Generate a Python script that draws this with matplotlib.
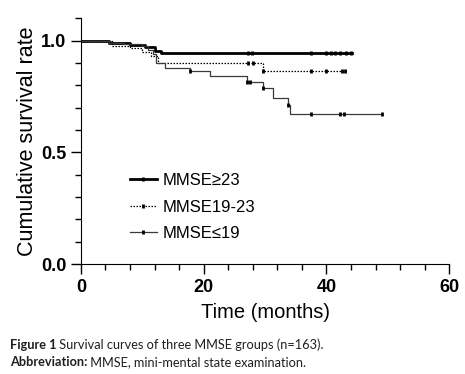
import numpy as np
import matplotlib
matplotlib.use("Agg")
import matplotlib.pyplot as plt
from matplotlib.lines import Line2D
from matplotlib.ticker import MultipleLocator

plt.rcParams['font.family'] = ['Liberation Sans', 'DejaVu Sans']

labels = ["MMSE\u226523", "MMSE19-23", "MMSE\u226419"]

# step times (months) and survival after each step
t_hi = [0, 4.5, 8.0, 10.5, 12.0, 13.0]
s_hi = [1.0, 0.99, 0.98, 0.97, 0.955, 0.945]
end_hi = 44.2
cens_hi = [27.3, 27.9, 37.5, 40.0, 40.7, 41.4, 42.2, 43.2, 44.0]

t_mid = [0, 5.0, 8.0, 10.0, 11.5, 12.5, 29.7]
s_mid = [1.0, 0.977, 0.965, 0.95, 0.93, 0.90, 0.862]
end_mid = 43.3
cens_mid = [27.3, 28.0, 29.7, 37.5, 40.0, 42.5, 43.1]

t_lo = [0, 4.5, 7.0, 10.0, 11.0, 11.8, 12.3, 13.7, 17.8, 21.0, 27.0, 29.7, 31.3, 33.7, 34.0]
s_lo = [1.0, 0.99, 0.985, 0.975, 0.96, 0.94, 0.90, 0.877, 0.862, 0.84, 0.817, 0.787, 0.742, 0.712, 0.671]
end_lo = 49.0
cens_lo = [17.8, 27.0, 27.6, 29.7, 33.7, 37.5, 42.2, 42.8, 49.0]


def surv_at(t, s, c):
    t = np.asarray(t)
    idx = np.searchsorted(t, c, side='right') - 1
    return np.asarray(s)[idx]


fig = plt.figure(figsize=(4.65, 3.74), dpi=100)
ax = fig.add_axes([0.174, 0.294, 0.792, 0.657])

styles = [
    dict(color='black', lw=2.0, ls='-'),
    dict(color='black', lw=0.9, ls=(0, (1.2, 1.2))),
    dict(color='#3a3a3a', lw=0.9, ls='-'),
]
series = [(t_hi, s_hi, end_hi, cens_hi), (t_mid, s_mid, end_mid, cens_mid), (t_lo, s_lo, end_lo, cens_lo)]

handles = []
for (t, s, end, cens), st, lab in zip(series, styles, labels):
    tx = list(t) + [end]
    sx = list(s) + [s[-1]]
    ax.step(tx, sx, where='post', **st)
    ax.plot(cens, surv_at(t, s, cens), ls='none', marker='|', ms=3.5, mew=2, color='black')
    handles.append(Line2D([], [], marker='|', ms=3.5, mew=2, markeredgecolor='black', **st))

ax.legend(handles, labels, loc='center left', bbox_to_anchor=(0.133, 0.232), frameon=False,
          fontsize=12, handlelength=1.6, handletextpad=0.35, labelspacing=0.7,
          borderpad=0, borderaxespad=0, numpoints=1)

ax.set_xlim(0, 60)
ax.set_ylim(0, 1.1)
ax.set_xticks([0, 20, 40, 60])
ax.set_yticks([0.0, 0.5, 1.0])
ax.xaxis.set_minor_locator(MultipleLocator(4))
ax.yaxis.set_minor_locator(MultipleLocator(0.1))
ax.tick_params(which='major', direction='out', length=7, width=1, labelsize=13)
ax.tick_params(which='minor', direction='out', length=4, width=1)
for lab in ax.get_xticklabels() + ax.get_yticklabels():
    lab.set_fontweight('bold')
ax.spines['top'].set_visible(False)
ax.spines['right'].set_visible(False)
ax.set_xlabel("Time (months)", fontsize=14.5, labelpad=5)
ax.set_ylabel("Cumulative survival rate", fontsize=15.5, labelpad=2)

# caption with bold lead-in
cap_color = '#231f20'
renderer = fig.canvas.get_renderer()
for y, bold, rest in [(345, "Figure 1", " Survival curves of three MMSE groups (n=163)."),
                      (362, "Abbreviation:", " MMSE, mini-mental state examination.")]:
    yf = 1 - y / 374
    tb = fig.text(10 / 465, yf, bold, fontsize=9.2, fontweight='bold', family='Lato',
                  color=cap_color, va='center', ha='left')
    bb = tb.get_window_extent(renderer)
    x1 = bb.x1 / fig.bbox.width
    fig.text(x1, yf, rest, fontsize=9.2, family='Lato', color=cap_color, va='center', ha='left')

fig.savefig("out.png", dpi=100)
